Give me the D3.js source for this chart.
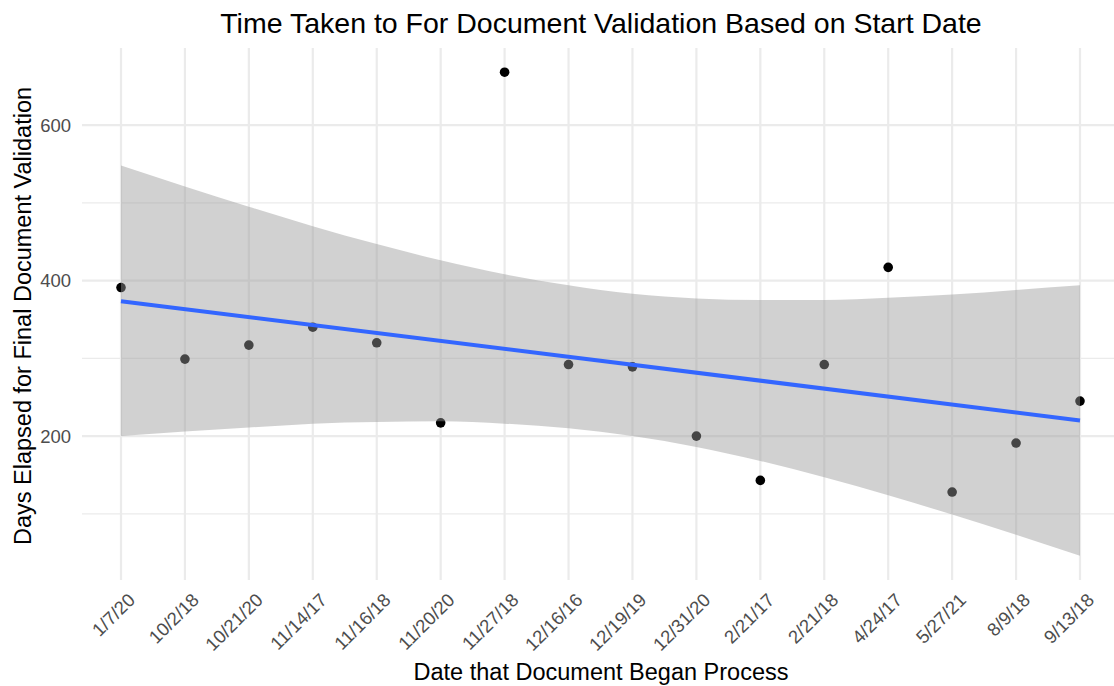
<!DOCTYPE html>
<html>
<head>
<meta charset="utf-8">
<script src="https://cdn.jsdelivr.net/npm/d3@7"></script>
<style>
  body { margin: 0; background: #fff; }
  text { font-family: "Liberation Sans", Arial, sans-serif; }
</style>
</head>
<body>
<div id="chart"></div>
<script>
// start dates (categorical, in the order shown)
var startDates = ["1/7/20", "10/2/18", "10/21/20", "11/14/17", "11/16/18", "11/20/20",
  "11/27/18", "12/16/16", "12/19/19", "12/31/20", "2/21/17", "2/21/18",
  "4/24/17", "5/27/21", "8/9/18", "9/13/18"];
// days elapsed for final validation
var daysElapsed = [391, 299, 317, 340, 320, 217, 668, 292, 289, 200, 143, 292, 417, 128, 191, 245];
// confidence band of the smoother, read at each category
var bandUpper = [548, 521, 495, 470, 447, 426, 408, 394, 383, 377, 375, 375, 378, 382, 388, 394];
var bandLower = [200, 206, 211, 216, 218, 219, 216, 210, 200, 186, 168, 147, 124, 99, 73, 46];
var yTicks = [200, 400, 600];
var yMinor = [100, 300, 500];

var W = 1114, H = 686;
var panel = {left: 82, right: 1119, top: 48, bottom: 580};

var svg = d3.select("#chart").append("svg")
    .attr("width", W)
    .attr("height", H);

// linear fit (method = "lm") on the category index
var n = daysElapsed.length;
var xs = d3.range(1, n + 1);
var mx = d3.mean(xs), my = d3.mean(daysElapsed);
var sxx = d3.sum(xs, function(v) { return (v - mx) * (v - mx); });
var sxy = d3.sum(xs, function(v, i) { return (v - mx) * (daysElapsed[i] - my); });
var slope = sxy / sxx, icpt = my - slope * mx;

var band = xs.map(function(v, i) { return {x: v, lo: bandLower[i], hi: bandUpper[i]}; });

var yLo = Math.min(d3.min(daysElapsed), d3.min(bandLower));
var yHi = Math.max(d3.max(daysElapsed), d3.max(bandUpper));
var pad = (yHi - yLo) * 0.05;

var y = d3.scaleLinear()
    .domain([yLo - pad, yHi + pad])
    .range([panel.bottom, panel.top]);

var x = d3.scalePoint()
    .domain(startDates)
    .range([121, 1080]);

// numeric x for the fit (category index)
var xn = d3.scaleLinear().domain([1, n]).range([121, 1080]);

// grid
var grid = svg.append("g");
grid.selectAll(".minor")
    .data(yMinor)
  .enter().append("line")
    .attr("x1", panel.left).attr("x2", panel.right)
    .attr("y1", function(d) { return y(d); })
    .attr("y2", function(d) { return y(d); })
    .attr("stroke", "#ebebeb")
    .attr("stroke-width", 1.3);
grid.selectAll(".major")
    .data(yTicks)
  .enter().append("line")
    .attr("x1", panel.left).attr("x2", panel.right)
    .attr("y1", function(d) { return y(d); })
    .attr("y2", function(d) { return y(d); })
    .attr("stroke", "#ebebeb")
    .attr("stroke-width", 2.2);
grid.selectAll(".vmajor")
    .data(startDates)
  .enter().append("line")
    .attr("x1", function(d) { return x(d); })
    .attr("x2", function(d) { return x(d); })
    .attr("y1", panel.top).attr("y2", panel.bottom)
    .attr("stroke", "#ebebeb")
    .attr("stroke-width", 2.2);

// points
svg.append("g").selectAll("circle")
    .data(startDates)
  .enter().append("circle")
    .attr("cx", function(d) { return x(d); })
    .attr("cy", function(d, i) { return y(daysElapsed[i]); })
    .attr("r", 4.8)
    .attr("fill", "#000");

// confidence band
var area = d3.area()
    .curve(d3.curveMonotoneX)
    .x(function(d) { return xn(d.x); })
    .y0(function(d) { return y(d.lo); })
    .y1(function(d) { return y(d.hi); });
svg.append("path")
    .datum(band)
    .attr("d", area)
    .attr("fill", "#999999")
    .attr("fill-opacity", 0.45);

// fit line
svg.append("line")
    .attr("x1", xn(1)).attr("y1", y(icpt + slope * 1))
    .attr("x2", xn(n)).attr("y2", y(icpt + slope * n))
    .attr("stroke", "#3366FF")
    .attr("stroke-width", 4);

// y axis labels
svg.append("g").selectAll("text")
    .data(yTicks)
  .enter().append("text")
    .attr("x", 71)
    .attr("y", function(d) { return y(d); })
    .attr("dy", "0.35em")
    .attr("text-anchor", "end")
    .attr("fill", "#4d4d4d")
    .style("font-size", "18.5px")
    .text(function(d) { return d; });

// x axis labels
svg.append("g").selectAll("text")
    .data(startDates)
  .enter().append("text")
    .attr("transform", function(d) { return "translate(" + (x(d) + 6) + "," + 592 + ") rotate(-45)"; })
    .attr("dy", "0.7em")
    .attr("text-anchor", "end")
    .attr("fill", "#4d4d4d")
    .style("font-size", "18.5px")
    .text(function(d) { return d; });

// titles
svg.append("text")
    .attr("x", 601).attr("y", 33)
    .attr("text-anchor", "middle")
    .attr("fill", "#000")
    .style("font-size", "28.5px")
    .text("Time Taken to For Document Validation Based on Start Date");

svg.append("text")
    .attr("x", 601).attr("y", 680)
    .attr("text-anchor", "middle")
    .attr("fill", "#000")
    .style("font-size", "23.5px")
    .text("Date that Document Began Process");

svg.append("text")
    .attr("transform", "translate(31," + 316 + ") rotate(-90)")
    .attr("text-anchor", "middle")
    .attr("fill", "#000")
    .style("font-size", "23.5px")
    .text("Days Elapsed for Final Document Validation");
</script>
</body>
</html>
